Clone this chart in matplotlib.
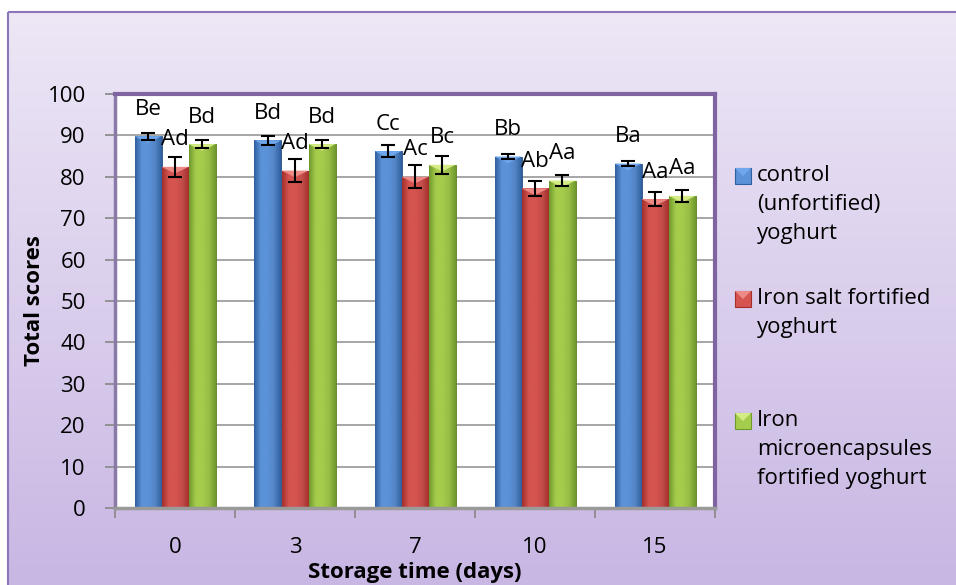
import numpy as np
import matplotlib
matplotlib.use("Agg")
import matplotlib.pyplot as plt
from matplotlib.patches import Rectangle, Polygon
from matplotlib.colors import LinearSegmentedColormap, to_rgb

plt.rcParams['font.family'] = ['Open Sans', 'DejaVu Sans']

# ---- data ----
days = ['0', '3', '7', '10', '15']
control = [89.8, 88.8, 86.2, 84.9, 83.2]
iron_salt = [82.4, 81.5, 80.0, 77.2, 74.6]
microcaps = [87.9, 87.9, 82.9, 79.1, 75.4]
control_err = [0.8, 1.1, 1.4, 0.5, 0.7]
iron_salt_err = [2.5, 2.8, 2.8, 1.9, 1.7]
microcaps_err = [1.0, 1.0, 2.2, 1.3, 1.5]
control_lbl = ['Be', 'Bd', 'Cc', 'Bb', 'Ba']
iron_salt_lbl = ['Ad', 'Ad', 'Ac', 'Ab', 'Aa']
microcaps_lbl = ['Bd', 'Bd', 'Bc', 'Aa', 'Aa']
series_names = ['control\n(unfortified)\nyoghurt',
                'Iron salt fortified\nyoghurt',
                'Iron\nmicroencapsules\nfortified yoghurt']

W, H = 956, 585
FS = 16
fig = plt.figure(figsize=(W / 100, H / 100), dpi=100)
fig.patch.set_facecolor('white')

# background panel with vertical lavender gradient
bg = fig.add_axes([0, 0, 1, 1], zorder=-10)
bg.set_xlim(0, W)
bg.set_ylim(H, 0)
bg.axis('off')
grad = np.linspace(0, 1, 256)[:, None]
bg_cmap = LinearSegmentedColormap.from_list('bg', ['#ede7f6', '#c8b6e3'])
bg.imshow(grad, extent=[8, W + 5, H + 5, 12], cmap=bg_cmap, aspect='auto')
bg.add_patch(Rectangle((8, 12), W, H, fill=False, edgecolor='#8a76b8', lw=1.5))

# plot area
ax = fig.add_axes([115 / W, 1 - 508 / H, 600 / W, 414 / H])
ax.set_facecolor('white')
ax.set_ylim(0, 100)
ax.set_xlim(0, len(days))

ax.set_yticks(np.arange(0, 101, 10))
ax.yaxis.grid(True, color='#a6a6a6', lw=1.4)
ax.set_axisbelow(True)
ax.tick_params(axis='y', length=7, width=1.3, color='#8c8c8c', labelsize=FS, pad=14)

ax.set_xticks(np.arange(0, len(days) + 1))
ax.set_xticklabels([])
ax.set_xticks(np.arange(len(days)) + 0.5, minor=True)
ax.set_xticklabels(days, minor=True)
ax.tick_params(axis='x', which='major', length=7, width=1.3, color='#8c8c8c')
ax.tick_params(axis='x', which='minor', length=0, labelsize=FS, pad=21)

for side in ['top', 'right']:
    ax.spines[side].set_color('#8064a2')
    ax.spines[side].set_linewidth(3)
ax.spines['left'].set_color('#8a7aa8')
ax.spines['left'].set_linewidth(2.5)
ax.spines['bottom'].set_color('#9a9a9a')
ax.spines['bottom'].set_linewidth(2.5)

ax.set_ylabel('Total scores', fontsize=FS, fontweight='bold', labelpad=2)
ax.set_xlabel('Storage time (days)', fontsize=FS, fontweight='bold', labelpad=3)

bw = 0.225
x = np.arange(len(days)) + 0.5
colors = [
    ('#2f5f9f', '#5b92d8', '#6fa6ec'),   # dark, mid, tip
    ('#a32f2c', '#d55450', '#ee8a86'),
    ('#6f9a2c', '#a6cc4c', '#d5ec86'),
]


def shade(c, f):
    r, g, b = to_rgb(c)
    return (r * f, g * f, b * f)


all_vals = [control, iron_salt, microcaps]
all_err = [control_err, iron_salt_err, microcaps_err]
all_lbl = [control_lbl, iron_salt_lbl, microcaps_lbl]

for i, (vals, errs, lbls) in enumerate(zip(all_vals, all_err, all_lbl)):
    dark, mid, tip = colors[i]
    cmap = LinearSegmentedColormap.from_list(
        'b%d' % i, [dark, mid, mid, shade(mid, 0.92), dark], N=256)
    xs = x + (i - 1) * bw
    bars = ax.bar(xs, vals, bw, color=mid, edgecolor=shade(dark, 0.8),
                  linewidth=0.6, zorder=2)
    for bar in bars:
        x0 = bar.get_x()
        h = bar.get_height()
        im = ax.imshow(np.linspace(0, 1, 64)[None, :], cmap=cmap,
                       extent=[x0, x0 + bw, 0, h], aspect='auto', zorder=2.1)
        im.set_clip_path(bar)
        ax.add_patch(Polygon([[x0, h], [x0 + bw, h], [x0 + bw / 2, h - 1.6]],
                             closed=True, facecolor=tip, edgecolor='none',
                             zorder=2.2))
    ax.errorbar(xs, vals, yerr=errs, fmt='none', ecolor='black', elinewidth=1.5,
                capsize=5, capthick=1.5, zorder=3)
    for xi, v, t in zip(xs, vals, lbls):
        ax.annotate(t, (xi, v), xytext=(0, 19.5), textcoords='offset points',
                    ha='center', va='center', fontsize=FS, zorder=4,
                    annotation_clip=False)

# legend entries, evenly spaced down the right side
leg_y = [176, 299, 421]
for i, (name, y) in enumerate(zip(series_names, leg_y)):
    dark, mid, tip = colors[i]
    bg.add_patch(Rectangle((735, y - 8), 16, 16, facecolor=mid,
                           edgecolor=dark, lw=0.8))
    bg.add_patch(Polygon([[735, y - 8], [751, y - 8], [743, y]], closed=True,
                         facecolor=tip, edgecolor='none'))
    bg.text(757, y - 11, name, fontsize=FS, ha='left', va='top',
            linespacing=1.5)

fig.savefig('out.png', dpi=100)
